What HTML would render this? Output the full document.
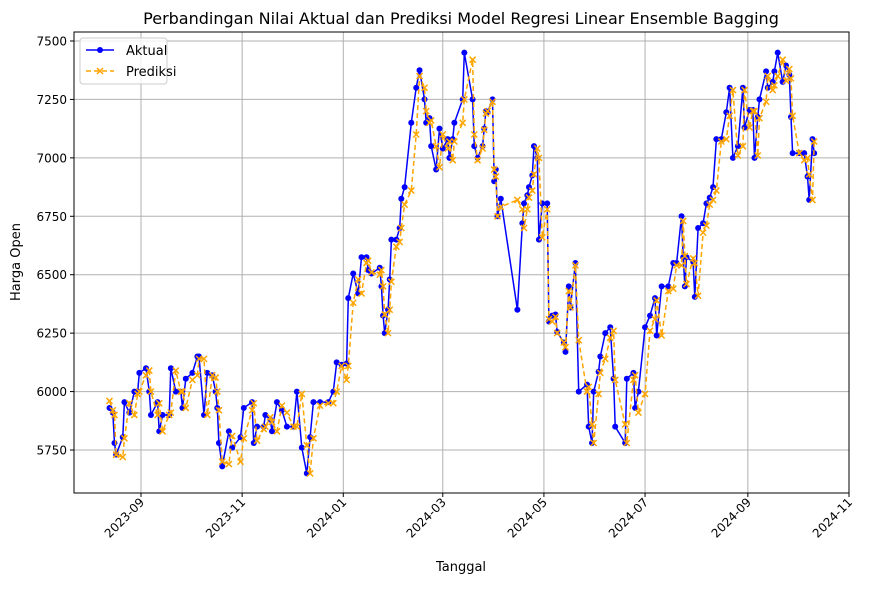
<!DOCTYPE html>
<html><head><meta charset="utf-8">
<style>
html,body{margin:0;padding:0;background:#fff;}
svg text{font-family:"DejaVu Sans","Liberation Sans",sans-serif;}
</style></head>
<body>
<svg id="chart" width="884" height="584" viewBox="0 0 884 584" xmlns="http://www.w3.org/2000/svg">
<text x="461" y="24" font-size="16" text-anchor="middle" fill="#000">Perbandingan Nilai Aktual dan Prediksi Model Regresi Linear Ensemble Bagging</text>
<g id="grid"></g>
<g id="series"></g>
<rect x="74" y="32" width="775" height="461" fill="none" stroke="#000" stroke-width="1"/>
<g id="axes"></g>
<text x="461" y="571" font-size="13" text-anchor="middle">Tanggal</text>
<text x="0" y="0" font-size="13" text-anchor="middle" transform="translate(20,262) rotate(-90)">Harga Open</text>
<g>
<rect x="80" y="38" width="87" height="46" rx="3" fill="#fff" fill-opacity="0.8" stroke="#ccc"/>
<g>
<line x1="86" y1="50" x2="114" y2="50" stroke="#0000ff" stroke-width="1.5"/>
<circle cx="100" cy="50" r="3" fill="#0000ff"/>
<text x="126" y="55" font-size="13">Aktual</text>
</g>
<g>
<line x1="86" y1="71" x2="114" y2="71" stroke="#ffa500" stroke-width="1.5" stroke-dasharray="5,3"/>
<path d="M97,68 L103,74 M103,68 L97,74" stroke="#ffa500" stroke-width="1.5"/>
<text x="126" y="76" font-size="13">Prediksi</text>
</g>
</g>
</svg>
<script>
const baseDate = "2023-09-01";
const dayOffsets = [-19,-17,-16,-15,-11,-10,-7,-4,-2,-1,3,5,6,10,11,13,17,18,21,24,25,27,31,34,35,38,40,43,45,46,47,49,53,55,60,62,67,68,70,74,75,78,79,82,85,88,92,94,97,100,102,104,108,113,116,118,121,124,125,128,131,133,136,137,139,144,145,146,147,149,150,151,154,156,157,159,163,166,168,171,172,174,175,178,180,182,185,186,188,189,194,195,200,201,203,206,207,208,209,212,213,214,215,217,227,230,231,233,234,236,237,239,240,242,245,246,248,250,251,255,256,258,259,262,264,269,270,272,273,276,277,280,283,285,286,292,293,297,298,300,304,307,310,311,314,318,321,323,326,327,328,329,333,334,336,339,341,343,345,347,350,353,355,357,360,363,364,367,369,370,372,373,377,378,381,382,384,387,389,391,392,393,397,400,402,403,405,406];
const actualValues = [5930,5910,5780,5730,5805,5955,5910,6000,6000,6080,6100,6000,5900,5955,5830,5900,5900,6100,6000,6000,5930,6055,6080,6150,6150,5900,6080,6070,6000,5930,5780,5680,5830,5760,5805,5930,5955,5780,5850,5850,5900,5880,5830,5955,5920,5850,5850,6000,5760,5650,5805,5955,5955,5955,6000,6125,6115,6120,6400,6505,6420,6575,6575,6520,6505,6530,6450,6325,6250,6350,6480,6650,6650,6700,6825,6875,7150,7300,7375,7250,7150,7170,7050,6950,7125,7040,7080,7000,7080,7150,7250,7450,7250,7050,7000,7050,7125,7200,7195,7250,6900,6950,6750,6825,6350,6720,6805,6840,6875,6925,7050,7000,6650,6805,6805,6300,6325,6330,6255,6210,6170,6450,6360,6550,6000,6030,5850,5780,6000,6085,6150,6250,6275,6055,5850,5780,6055,6080,5930,6000,6275,6325,6400,6240,6450,6450,6550,6550,6750,6575,6450,6575,6555,6405,6700,6720,6805,6830,6875,7080,7080,7195,7300,7000,7050,7300,7130,7205,7205,7000,7175,7250,7370,7300,7325,7370,7450,7325,7395,7355,7175,7020,7020,7020,6920,6820,7080,7020];
const predictedValues = [5960,5920,5900,5730,5720,5800,5950,5900,5990,6000,6070,6090,6000,5900,5950,5830,5900,5910,6090,6000,6000,5930,6050,6070,6140,6140,5900,6070,6060,6000,5920,5700,5690,5810,5700,5800,5920,5950,5790,5840,5850,5890,5870,5830,5940,5910,5850,5850,5990,5770,5650,5800,5940,5950,5950,6000,6110,6050,6110,6380,6480,6420,6550,6560,6510,6500,6520,6450,6330,6250,6350,6470,6620,6640,6700,6800,6860,7100,7350,7300,7200,7150,7160,7050,6960,7100,7040,7070,6990,7070,7150,7250,7420,7100,6990,7040,7120,7190,7200,7240,6950,6920,6750,6790,6820,6780,6700,6780,6830,6860,6930,7040,7000,6660,6780,6310,6300,6320,6250,6210,6190,6430,6360,6540,6220,6000,6020,5860,5780,5990,6080,6140,6230,6260,6050,5860,5780,6050,6070,5910,5990,6260,6310,6390,6240,6430,6440,6540,6540,6730,6580,6460,6570,6550,6410,6680,6710,6800,6820,6860,7070,7080,7180,7290,7010,7050,7290,7130,7200,7200,7010,7170,7240,7350,7290,7310,7350,7420,7330,7380,7340,7180,7020,6990,7000,6930,6820,7070];
const yTicks = [5750,6000,6250,6500,6750,7000,7250,7500];
const xTickLabels = ["2023-09","2023-11","2024-01","2024-03","2024-05","2024-07","2024-09","2024-11"];
const xTickOffsets = [0,61,122,182,243,304,366,427];

const NS="http://www.w3.org/2000/svg";
const L=74,R=849,T=32,B=493;
function xS(d){return 141 + d*(849-141)/427;}
function yS(v){return 41 + (7500-v)/250*58.43;}
function mk(tag,attrs,parent){const e=document.createElementNS(NS,tag);for(const k in attrs)e.setAttribute(k,attrs[k]);parent.appendChild(e);return e;}
const grid=document.getElementById('grid'),axes=document.getElementById('axes'),ser=document.getElementById('series');
yTicks.forEach(v=>{const y=yS(v);
 const g=mk('line',{x1:L,x2:R,y1:y,y2:y,stroke:'#b0b0b0','stroke-width':1},grid);
 
 
 const t=mk('line',{x1:L-4,x2:L,y1:y,y2:y,stroke:'#000'},axes);
 
 
 const tx=mk('text',{x:L-7,y:y+4.5,'font-size':12,'text-anchor':'end'},axes);tx.textContent=v;
 
 
});
xTickOffsets.forEach((d,i)=>{const x=xS(d);
 const g=mk('line',{x1:x,x2:x,y1:T,y2:B,stroke:'#b0b0b0','stroke-width':1},grid);
 
 
 const t=mk('line',{x1:x,x2:x,y1:B,y2:B+4,stroke:'#000'},axes);
 
 
 const tx=mk('text',{x:0,y:0,'font-size':12,'text-anchor':'end',transform:`translate(${x+4},${B+10}) rotate(-45)`},axes);tx.textContent=xTickLabels[i];
 
 
});
const n=Math.min(dayOffsets.length,actualValues.length,predictedValues.length);
let pa='',pp='';
for(let i=0;i<n;i++){pa+=(i?'L':'M')+xS(dayOffsets[i]).toFixed(1)+','+yS(actualValues[i]).toFixed(1);pp+=(i?'L':'M')+xS(dayOffsets[i]).toFixed(1)+','+yS(predictedValues[i]).toFixed(1);}
const la=mk('path',{d:pa,fill:'none',stroke:'#0000ff','stroke-width':1.5},ser);


for(let i=0;i<n;i++){const c=mk('circle',{cx:xS(dayOffsets[i]),cy:yS(actualValues[i]),r:3,fill:'#0000ff'},ser);
 
 }
const lp=mk('path',{d:pp,fill:'none',stroke:'#ffa500','stroke-width':1.5,'stroke-dasharray':'5,3'},ser);


for(let i=0;i<n;i++){const x=xS(dayOffsets[i]),y=yS(predictedValues[i]);
 const m=mk('path',{d:`M${x-3},${y-3}L${x+3},${y+3}M${x+3},${y-3}L${x-3},${y+3}`,stroke:'#ffa500','stroke-width':1.5},ser);
 
 }
</script>
</body></html>
